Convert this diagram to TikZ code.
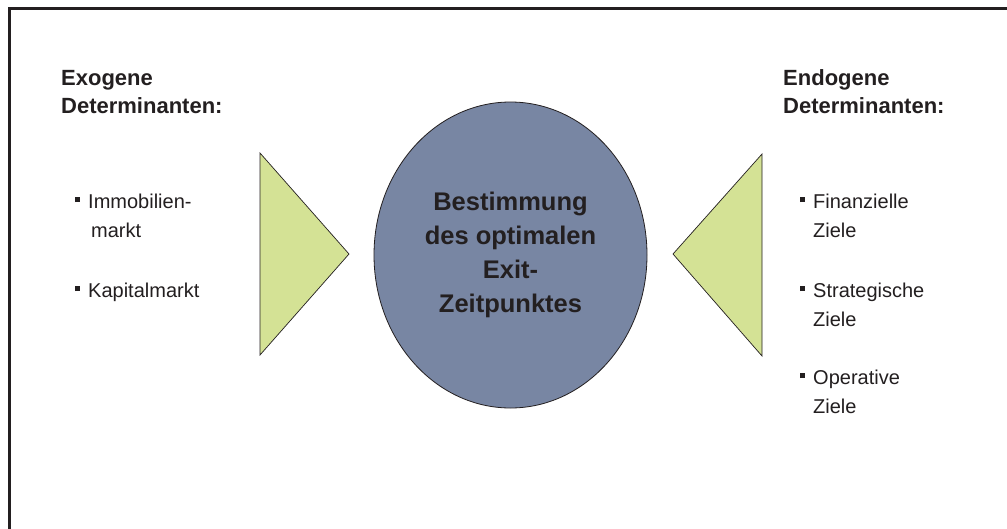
\documentclass[tikz,border=0pt]{standalone}
\usepackage{fontspec}
\setmainfont{Liberation Sans}
\usetikzlibrary{shapes.geometric}
\definecolor{ink}{HTML}{231F20}
\definecolor{slate}{HTML}{7886A3}
\definecolor{lime}{HTML}{D4E295}
\tikzset{
  frame/.style={draw=ink, line width=2.8pt},
  heading/.style={anchor=base west, inner sep=0pt, align=left, text=ink,
    font=\bfseries\fontsize{22}{28}\selectfont},
  item/.style={anchor=base west, inner sep=0pt, align=left, text=ink,
    font=\fontsize{20}{29}\selectfont},
  wedge/.style={fill=lime, draw=ink, line width=0.7pt, line join=miter},
  core/.style={ellipse, fill=slate, draw=ink, line width=0.8pt, inner sep=0pt,
    minimum width=273pt, minimum height=306pt, align=center, text=ink,
    font=\bfseries\fontsize{25.5}{34}\selectfont}
}
\newcommand{\bul}{\llap{\raisebox{6pt}{\rule{4.5pt}{5pt}}\hspace{8.5pt}}}
\begin{document}
\begin{tikzpicture}[x=1pt,y=-1pt]
\useasboundingbox (0,0) rectangle (1007,528);
\fill[white] (0,0) rectangle (1007,528);
% open frame: top and left edges only
\draw[frame] (9.5,540) -- (9.5,8.7) -- (1020,8.7);

% headings (positioned at the baseline of their last line)
\node[heading] (exo) at (61,113) {Exogene\\Determinanten:};
\node[heading] (endo) at (783,113) {Endogene\\Determinanten:};

% exogenous items
\node[item] (immo) at (88,237) {\bul Immobilien-\\\hspace{3pt}markt};
\node[item] (kap) at (88,297) {\bul Kapitalmarkt};

% endogenous items
\node[item] (fin) at (813,237) {\bul Finanzielle\\Ziele};
\node[item] (str) at (813,326) {\bul Strategische\\Ziele};
\node[item] (ope) at (813,413) {\bul Operative\\Ziele};

% wedges pointing to the centre
\coordinate (lt) at (260,153);
\coordinate (lb) at (260,355);
\coordinate (la) at (349,254);
\coordinate (rt) at (762,154);
\coordinate (rb) at (762,356);
\coordinate (ra) at (673,254);
\draw[wedge] (lt) -- (la) -- (lb) -- cycle;
\draw[wedge] (rt) -- (ra) -- (rb) -- cycle;

% central ellipse
\node[core] (goal) at (510.5,255) {Bestimmung\\des optimalen\\Exit-\\Zeitpunktes};
\end{tikzpicture}
\end{document}
